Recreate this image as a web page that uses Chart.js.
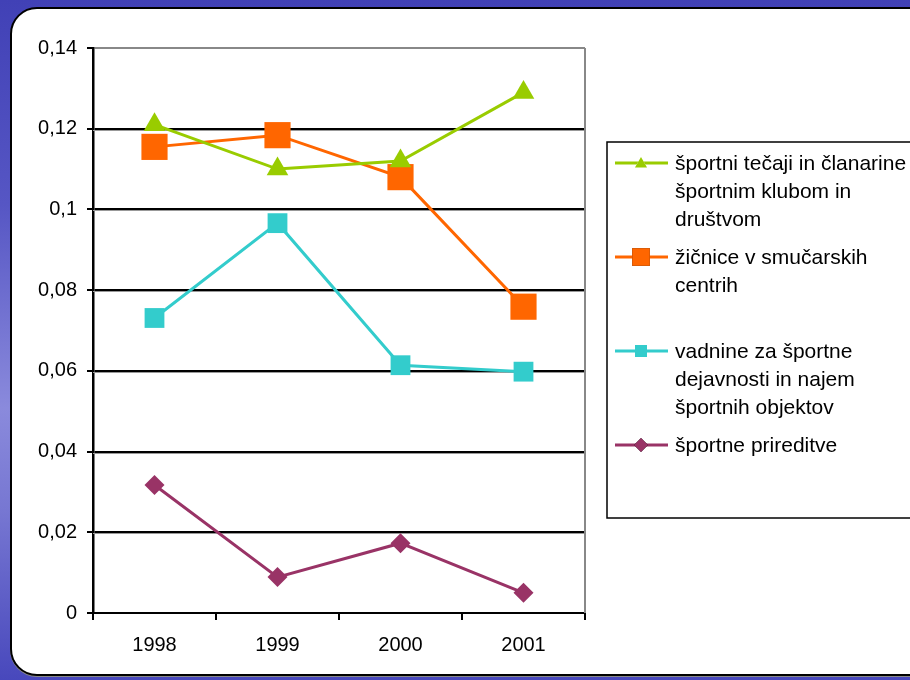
<!DOCTYPE html>
<html>
<head>
<meta charset="utf-8">
<script src="https://cdn.jsdelivr.net/npm/chart.js@4"></script>
<style>
body{margin:0;width:910px;height:680px;position:relative;overflow:hidden;
  background:linear-gradient(180deg,#4141b6 0%,#5656c4 30%,#8a8adc 60%,#7777d2 75%,#4848bc 100%);}
.panel{position:absolute;left:10px;top:7px;width:940px;height:665px;background:#fff;
  border:2.5px solid #000;border-radius:27px;box-shadow:0 1px 0 #888;}
#graph{position:absolute;left:0;top:0;}
</style>
</head>
<body>
<div class="panel"></div>
<canvas id="graph" width="910" height="680"></canvas>
<script>
// years and the four series
const years = ['1998', '1999', '2000', '2001']
const tecaji = [0.121, 0.110, 0.112, 0.129]
const zicnice = [0.1155, 0.1184, 0.108, 0.0759]
const vadnine = [0.0731, 0.0966, 0.0614, 0.0598]
const prireditve = [0.0317, 0.0089, 0.0173, 0.005]

const names = [
    ['športni tečaji in članarine', 'športnim klubom in', 'društvom'],
    ['žičnice v smučarskih', 'centrih'],
    ['vadnine za športne', 'dejavnosti in najem', 'športnih objektov'],
    ['športne prireditve']
]
const yTicks = [0, 0.02, 0.04, 0.06, 0.08, 0.1, 0.12, 0.14]

const FAMILY = '"Liberation Sans", Arial, sans-serif'

function series(label, data, color, style, r, legendR){
    return {
        label: label,
        data: data,
        borderColor: color,
        backgroundColor: color,
        borderWidth: 3,
        pointStyle: style,
        pointRadius: r,
        pointHoverRadius: r,
        pointBorderWidth: 0,
        pointBackgroundColor: color,
        tension: 0,
        clip: false,
        legendR: legendR
    }
}

// gray shadow under each gridline + right border of plot area
const plotFrame = {
    id: 'plotFrame',
    beforeDatasetsDraw(chart){
        const ctx = chart.ctx, a = chart.chartArea, y = chart.scales.y
        ctx.save()
        ctx.strokeStyle = '#999'
        ctx.lineWidth = 1
        yTicks.forEach(v => {
            if (v == 0 || v == 0.14) return
            let py = Math.round(y.getPixelForValue(v)) + 1.5
            ctx.beginPath(); ctx.moveTo(a.left, py); ctx.lineTo(a.right, py); ctx.stroke()
        })
        ctx.strokeStyle = '#888'
        ctx.lineWidth = 2
        ctx.beginPath(); ctx.moveTo(a.right, a.top); ctx.lineTo(a.right, a.bottom); ctx.stroke()
        ctx.restore()
    }
}

// Excel-like legend box on the right
const sideLegend = {
    id: 'sideLegend',
    afterDraw(chart){
        const ctx = chart.ctx
        ctx.save()
        ctx.fillStyle = '#fff'
        ctx.fillRect(607, 142, 320, 376)
        ctx.strokeStyle = '#000'
        ctx.lineWidth = 1.5
        ctx.strokeRect(607, 142, 320, 376)
        ctx.font = '21px ' + FAMILY
        ctx.textBaseline = 'middle'
        chart.data.datasets.forEach((ds, i) => {
            let y0 = 163 + i * 94
            ctx.strokeStyle = ds.borderColor
            ctx.lineWidth = 3
            ctx.beginPath(); ctx.moveTo(615, y0); ctx.lineTo(668, y0); ctx.stroke()
            Chart.helpers.drawPoint(ctx, {pointStyle: ds.pointStyle, radius: ds.legendR, borderWidth: 0}, 641, y0 + (ds.pointStyle == 'triangle' ? 1 : 0))
            ctx.fillStyle = ds.borderColor
            ctx.fill()
            ctx.fillStyle = '#000'
            names[i].forEach((line, j) => {
                ctx.fillText(line, 675, y0 + 1 + j * 28)
            })
        })
        ctx.restore()
    }
}

document.addEventListener('DOMContentLoaded', function(){
    new Chart('graph', {
        type: 'line',
        data: {
            labels: years,
            datasets: [
                series(names[0].join(' '), tecaji, '#99cc00', 'triangle', 12.5, 7),
                series(names[1].join(' '), zicnice, '#ff6600', 'rect', 18.5, 12.5),
                series(names[2].join(' '), vadnine, '#33cccc', 'rect', 14, 8.5),
                series(names[3].join(' '), prireditve, '#993366', 'rectRot', 10, 7)
            ]
        },
        options: {
            responsive: false,
            animation: false,
            layout: {padding: {top: 48, right: 325, left: 0, bottom: 0}},
            plugins: {
                legend: {display: false},
                tooltip: {enabled: false}
            },
            scales: {
                x: {
                    offset: true,
                    afterFit: s => { s.height = 67 },
                    grid: {
                        offset: true,
                        drawOnChartArea: false,
                        drawTicks: true,
                        tickLength: 7,
                        tickColor: '#000',
                        lineWidth: 2
                    },
                    border: {color: '#000', width: 2},
                    ticks: {color: '#000', font: {family: FAMILY, size: 20}, padding: 13}
                },
                y: {
                    min: 0,
                    max: 0.14,
                    afterFit: s => { s.width = 93 },
                    afterBuildTicks: s => { s.ticks = yTicks.map(v => ({value: v})) },
                    grid: {
                        color: c => c.tick && c.tick.value == 0.14 ? '#888' : '#000',
                        lineWidth: 2,
                        tickLength: 6,
                        tickColor: '#000'
                    },
                    border: {color: '#000', width: 2.5},
                    ticks: {
                        color: '#000',
                        font: {family: FAMILY, size: 20},
                        padding: 10,
                        callback: v => String(Math.round(v * 100) / 100).replace('.', ',')
                    }
                }
            }
        },
        plugins: [plotFrame, sideLegend]
    })
})
</script>
</body>
</html>
